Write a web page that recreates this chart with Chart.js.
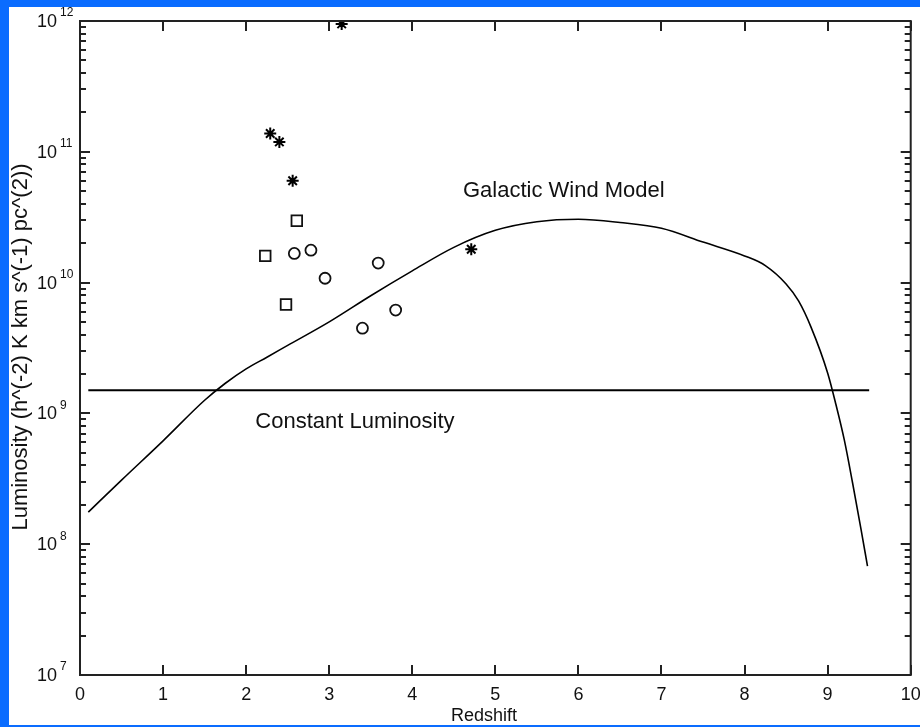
<!DOCTYPE html>
<html>
<head>
<meta charset="utf-8">
<script src="https://cdn.jsdelivr.net/npm/chart.js@4/dist/chart.umd.min.js"></script>
<style>
  html, body { margin: 0; padding: 0; background: #0a6cff; width: 920px; height: 727px; overflow: hidden; }
  #plot { position: absolute; left: 9px; top: 7px; background: #fff; }
</style>
</head>
<body>
<canvas id="plot" width="911" height="718"></canvas>
<script>
// --- datos ---
const redshift = [0.1, 0.5, 1, 1.5, 1.75, 2, 2.25, 2.5, 3, 3.5, 4, 4.5, 5, 5.5, 6, 6.5, 7, 7.5, 8, 8.25, 8.5, 8.65, 8.8, 9.0, 9.1, 9.2, 9.3, 9.4, 9.48];
const windLum = [1.76e8, 3.09e8, 6.17e8, 1.26e9, 1.70e9, 2.19e9, 2.69e9, 3.31e9, 5.01e9, 7.94e9, 1.23e10, 1.86e10, 2.51e10, 2.92e10, 3.05e10, 2.88e10, 2.60e10, 2.04e10, 1.60e10, 1.35e10, 9.77e9, 7.24e9, 4.57e9, 2.04e9, 1.17e9, 6.3e8, 2.95e8, 1.32e8, 6.8e7];

const constZ = [0.1, 9.5];
const constLum = [1.5e9, 1.5e9];

const starZ = [2.29, 2.40, 2.56, 3.15, 4.71];
const starL = [1.38e11, 1.19e11, 6.0e10, 9.5e11, 1.8e10];

const squareZ = [2.61, 2.23, 2.48];
const squareL = [2.97e10, 1.6e10, 6.8e9];

const hexZ = [2.58, 2.78, 2.95, 3.59, 3.80, 3.40];
const hexL = [1.67e10, 1.77e10, 1.08e10, 1.41e10, 6.17e9, 4.48e9];

const xTicks = [0, 1, 2, 3, 4, 5, 6, 7, 8, 9, 10];
const yExps = [7, 8, 9, 10, 11, 12];

const notes = [
  { text: 'Galactic Wind Model', x: 4.61, y: 5.0e10 },
  { text: 'Constant Luminosity', x: 2.11, y: 8.6e8 }
];

const pts = (xs, ys) => xs.map((v, i) => ({ x: v, y: ys[i] }));
const FONT = '"Liberation Sans", Arial, Helvetica, sans-serif';

// ejes estilo MATLAB: caja, ticks hacia dentro, etiquetas 10^n
const matlabAxes = {
  id: 'matlabAxes',
  afterDraw(chart) {
    const { ctx, chartArea: a, scales: { x, y } } = chart;
    ctx.save();
    ctx.strokeStyle = '#222';
    ctx.lineWidth = 2;
    ctx.strokeRect(a.left, a.top, a.right - a.left, a.bottom - a.top);

    ctx.beginPath();
    xTicks.forEach(v => {
      const px = Math.round(x.getPixelForValue(v));
      ctx.moveTo(px, a.bottom); ctx.lineTo(px, a.bottom - 10);
      ctx.moveTo(px, a.top); ctx.lineTo(px, a.top + 10);
    });
    yExps.forEach(e => {
      for (let m = 1; m <= 9; m++) {
        const val = m * Math.pow(10, e);
        if (val > 1e12) break;
        const py = Math.round(y.getPixelForValue(val));
        const len = m === 1 ? 10 : 6;
        ctx.moveTo(a.left, py); ctx.lineTo(a.left + len, py);
        ctx.moveTo(a.right, py); ctx.lineTo(a.right - len, py);
      }
    });
    ctx.stroke();

    ctx.fillStyle = '#111';
    ctx.font = '18px ' + FONT;
    ctx.textAlign = 'center';
    ctx.textBaseline = 'middle';
    xTicks.forEach(v => ctx.fillText(String(v), x.getPixelForValue(v), a.bottom + 20));

    yExps.forEach(e => {
      const py = y.getPixelForValue(Math.pow(10, e));
      ctx.font = '18px ' + FONT;
      ctx.textAlign = 'right';
      ctx.fillText('10', a.left - 23, py + 1);
      ctx.font = '12px ' + FONT;
      ctx.textAlign = 'left';
      ctx.fillText(String(e), a.left - 20, py - 8);
    });

    // títulos
    ctx.font = '18px ' + FONT;
    ctx.textAlign = 'center';
    ctx.fillText('Redshift', 475, 709);
    ctx.save();
    ctx.translate(12, 340);
    ctx.rotate(-Math.PI / 2);
    ctx.font = '22px ' + FONT;
    ctx.fillText('Luminosity (h^(-2) K km s^(-1) pc^(2))', 0, 0);
    ctx.restore();

    // anotaciones
    ctx.font = '22px ' + FONT;
    ctx.textAlign = 'left';
    notes.forEach(n => ctx.fillText(n.text, x.getPixelForValue(n.x), y.getPixelForValue(n.y)));
    ctx.restore();
  }
};

new Chart(document.getElementById('plot'), {
  type: 'scatter',
  data: {
    datasets: [
      {
        label: 'Galactic Wind Model',
        data: pts(redshift, windLum),
        showLine: true,
        borderColor: '#000',
        borderWidth: 1.6,
        pointRadius: 0,
        cubicInterpolationMode: 'monotone'
      },
      {
        label: 'Constant Luminosity',
        data: pts(constZ, constLum),
        showLine: true,
        borderColor: '#000',
        borderWidth: 2,
        pointRadius: 0
      },
      {
        label: 'stars',
        data: pts(starZ, starL),
        pointStyle: 'star',
        pointRadius: 6,
        borderColor: '#000',
        borderWidth: 2
      },
      {
        label: 'squares',
        data: pts(squareZ, squareL),
        pointStyle: 'rect',
        pointRadius: 7.5,
        borderColor: '#111',
        backgroundColor: 'rgba(0,0,0,0)',
        borderWidth: 1.8
      },
      {
        label: 'hexes',
        data: pts(hexZ, hexL),
        pointStyle: 'circle',
        pointRadius: 5.5,
        borderColor: '#111',
        backgroundColor: 'rgba(0,0,0,0)',
        borderWidth: 1.8
      }
    ]
  },
  options: {
    responsive: false,
    animation: false,
    layout: { padding: { top: 14, right: 9, left: 0, bottom: 0 } },
    plugins: { legend: { display: false }, tooltip: { enabled: false } },
    scales: {
      x: {
        type: 'linear', min: 0, max: 10,
        grid: { display: false }, border: { display: false },
        ticks: { display: false },
        afterFit: s => { s.height = 50; }
      },
      y: {
        type: 'logarithmic', min: 1e7, max: 1e12,
        grid: { display: false }, border: { display: false },
        ticks: { display: false },
        afterFit: s => { s.width = 71; }
      }
    }
  },
  plugins: [matlabAxes]
});
</script>
</body>
</html>
